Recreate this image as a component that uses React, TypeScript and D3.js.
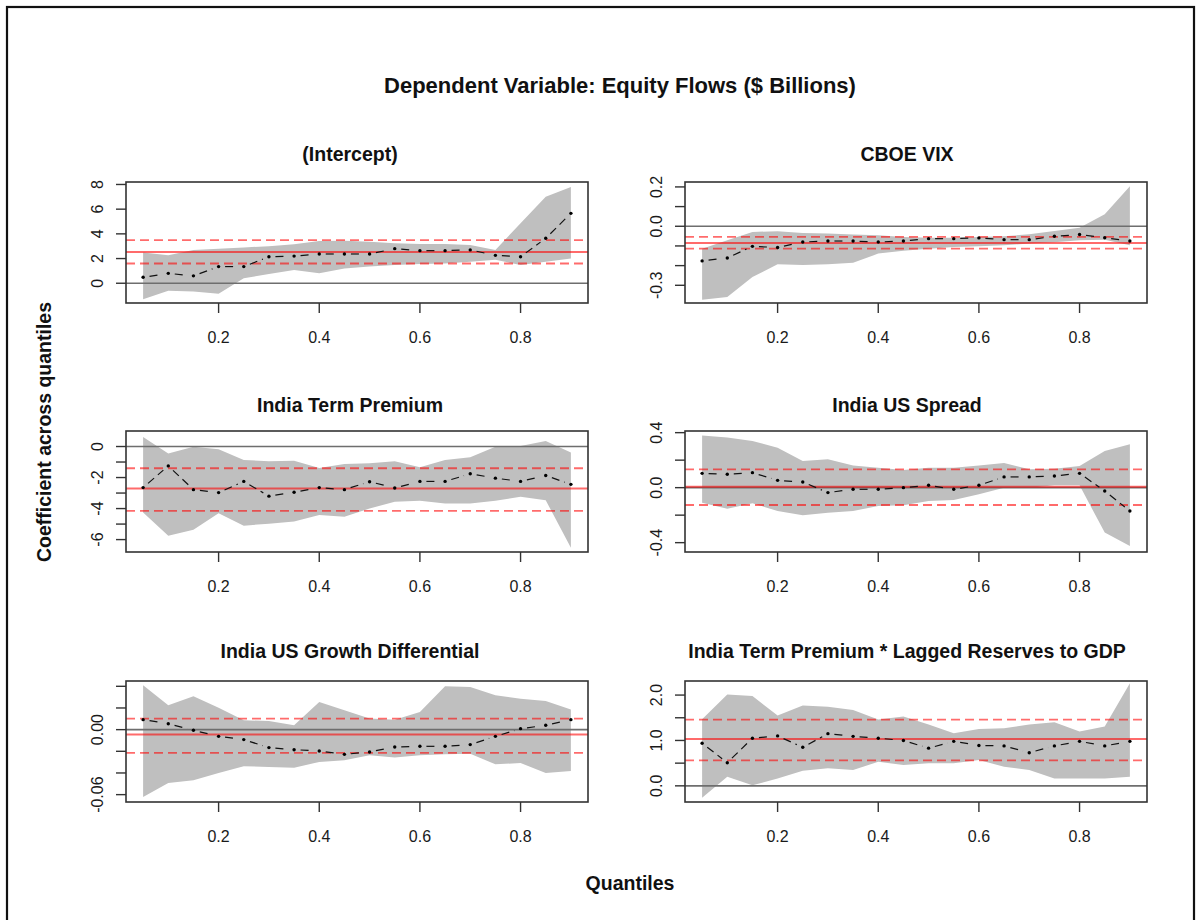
import * as d3 from 'd3';

// quantiles at which the regressions were run
const TAUS = [0.05, 0.1, 0.15, 0.2, 0.25, 0.3, 0.35, 0.4, 0.45, 0.5, 0.55, 0.6, 0.65, 0.7, 0.75, 0.8, 0.85, 0.9];
const X_TICKS = ['0.2', '0.4', '0.6', '0.8'];

// (Intercept)
const INT_COEF = [0.48, 0.8, 0.6, 1.35, 1.35, 2.15, 2.2, 2.37, 2.37, 2.37, 2.8, 2.64, 2.64, 2.7, 2.26, 2.15, 3.64, 5.66];
const INT_HI = [2.48, 2.26, 2.7, 2.8, 2.9, 3.0, 3.15, 3.42, 3.45, 3.37, 3.23, 3.18, 3.18, 3.1, 2.7, 4.85, 7.0, 7.8];
const INT_LO = [-1.3, -0.6, -0.67, -0.86, 0.4, 0.75, 1.08, 0.8, 1.2, 1.35, 1.48, 1.56, 1.6, 1.75, 1.9, 1.48, 1.75, 2.0];
const INT_OLS = [2.53, 1.6, 3.5];
const INT_TICKS = [0, 2, 4, 6, 8];
const INT_LABELS = ['0', '2', '4', '6', '8'];

// CBOE VIX
const VIX_COEF = [-0.176, -0.161, -0.102, -0.108, -0.08, -0.075, -0.075, -0.08, -0.075, -0.063, -0.063, -0.059, -0.068, -0.068, -0.051, -0.042, -0.058, -0.075];
const VIX_HI = [-0.114, -0.071, -0.029, -0.025, -0.034, -0.037, -0.042, -0.046, -0.054, -0.058, -0.058, -0.054, -0.051, -0.041, -0.024, -0.008, 0.061, 0.203];
const VIX_LO = [-0.373, -0.359, -0.258, -0.193, -0.197, -0.193, -0.186, -0.139, -0.125, -0.114, -0.105, -0.102, -0.097, -0.088, -0.081, -0.071, -0.068, -0.097];
const VIX_OLS = [-0.085, -0.114, -0.054];
const VIX_TICKS = [-0.3, -0.2, -0.1, 0, 0.1, 0.2];
const VIX_LABELS = ['-0.3', '0.0', '0.2'];

// India Term Premium
const ITP_COEF = [-2.65, -1.25, -2.78, -2.97, -2.25, -3.2, -2.95, -2.65, -2.78, -2.27, -2.67, -2.25, -2.25, -1.76, -2.04, -2.25, -1.87, -2.44];
const ITP_HI = [0.61, -0.45, -0.02, -0.17, -0.87, -0.95, -0.91, -1.38, -1.12, -1.08, -0.95, -1.34, -0.87, -0.7, -0.02, 0.04, 0.36, -0.38];
const ITP_LO = [-4.26, -5.75, -5.36, -4.3, -5.1, -4.98, -4.83, -4.41, -4.52, -3.99, -3.56, -3.5, -3.67, -3.67, -3.5, -3.24, -3.46, -6.53];
const ITP_OLS = [-2.71, -4.15, -1.4];
const ITP_TICKS = [-6, -5, -4, -3, -2, -1, 0];
const ITP_LABELS = ['-6', '-4', '-2', '0'];

// India US Spread
const SPR_COEF = [0.104, 0.097, 0.109, 0.053, 0.041, -0.036, -0.012, -0.012, 0.0, 0.017, -0.012, 0.017, 0.078, 0.078, 0.085, 0.104, -0.024, -0.17];
const SPR_HI = [0.38, 0.364, 0.34, 0.29, 0.194, 0.206, 0.162, 0.145, 0.128, 0.145, 0.145, 0.162, 0.18, 0.133, 0.138, 0.158, 0.267, 0.315];
const SPR_LO = [-0.109, -0.153, -0.114, -0.17, -0.2, -0.182, -0.17, -0.133, -0.128, -0.097, -0.09, -0.048, 0.0, 0.0, 0.017, 0.017, -0.327, -0.424];
const SPR_OLS = [0.007, -0.126, 0.133];
const SPR_TICKS = [-0.4, -0.2, 0, 0.2, 0.4];
const SPR_LABELS = ['-0.4', '0.0', '0.4'];

// India US Growth Differential
const GRO_COEF = [0.0092, 0.0055, -0.0006, -0.0062, -0.0092, -0.0166, -0.0185, -0.0197, -0.0228, -0.0206, -0.016, -0.0154, -0.0154, -0.0138, -0.0062, 0.0009, 0.004, 0.0092];
const GRO_HI = [0.0409, 0.0225, 0.0308, 0.0203, 0.0086, 0.008, 0.004, 0.0255, 0.0178, 0.0102, 0.0092, 0.0163, 0.04, 0.0394, 0.0317, 0.0286, 0.0265, 0.0185];
const GRO_LO = [-0.0622, -0.0492, -0.0468, -0.04, -0.0338, -0.0345, -0.0351, -0.0298, -0.0283, -0.0237, -0.0258, -0.0237, -0.0228, -0.0222, -0.032, -0.0308, -0.04, -0.0382];
const GRO_OLS = [-0.0046, -0.0215, 0.0102];
const GRO_TICKS = [-0.06, -0.04, -0.02, 0, 0.02, 0.04];
const GRO_LABELS = ['-0.06', '0.00'];

// India Term Premium * Lagged Reserves to GDP
const RES_COEF = [0.94, 0.51, 1.05, 1.1, 0.85, 1.15, 1.09, 1.05, 1.0, 0.83, 0.98, 0.89, 0.88, 0.73, 0.88, 0.98, 0.88, 0.98];
const RES_HI = [1.47, 2.01, 1.98, 1.55, 1.77, 1.74, 1.67, 1.46, 1.53, 1.35, 1.16, 1.25, 1.27, 1.35, 1.4, 1.2, 1.31, 2.26];
const RES_LO = [-0.26, 0.2, 0.015, 0.16, 0.33, 0.385, 0.35, 0.53, 0.46, 0.5, 0.5, 0.57, 0.42, 0.35, 0.16, 0.16, 0.16, 0.2];
const RES_OLS = [1.03, 0.56, 1.46];
const RES_TICKS = [0, 0.5, 1, 1.5, 2];
const RES_LABELS = ['0.0', '1.0', '2.0'];

const PANELS = [
  { title: '(Intercept)', coef: INT_COEF, hi: INT_HI, lo: INT_LO, ols: INT_OLS, ticks: INT_TICKS, labels: INT_LABELS, domain: [-1.6, 8.2] },
  { title: 'CBOE VIX', coef: VIX_COEF, hi: VIX_HI, lo: VIX_LO, ols: VIX_OLS, ticks: VIX_TICKS, labels: VIX_LABELS, domain: [-0.39, 0.225] },
  { title: 'India Term Premium', coef: ITP_COEF, hi: ITP_HI, lo: ITP_LO, ols: ITP_OLS, ticks: ITP_TICKS, labels: ITP_LABELS, domain: [-6.8, 1.0] },
  { title: 'India US Spread', coef: SPR_COEF, hi: SPR_HI, lo: SPR_LO, ols: SPR_OLS, ticks: SPR_TICKS, labels: SPR_LABELS, domain: [-0.468, 0.412] },
  { title: 'India US Growth Differential', coef: GRO_COEF, hi: GRO_HI, lo: GRO_LO, ols: GRO_OLS, ticks: GRO_TICKS, labels: GRO_LABELS, domain: [-0.0668, 0.0449] },
  { title: 'India Term Premium * Lagged Reserves to GDP', coef: RES_COEF, hi: RES_HI, lo: RES_LO, ols: RES_OLS, ticks: RES_TICKS, labels: RES_LABELS, domain: [-0.356, 2.31] },
];

const W = 1197, H = 920;
const COL_LEFT = [126, 685];
const COL_W = 462;
const ROW_TOP = [182, 431, 681];
const ROW_H = 121;
const TITLE_X = [350, 907];
const TITLE_Y = [161, 412, 658];
const FONT = '"Liberation Sans", Arial, sans-serif';
const RED = 'rgba(255,0,0,0.58)';

function Panel({ p, idx }: { p: typeof PANELS[number]; idx: number }) {
  const col = idx % 2, row = Math.floor(idx / 2);
  const x0 = COL_LEFT[col], y0 = ROW_TOP[row];
  const x = d3.scaleLinear().domain([0.016, 0.934]).range([x0, x0 + COL_W]);
  const y = d3.scaleLinear().domain(p.domain).range([y0 + ROW_H, y0]);

  const band = d3.area<number>()
    .x((_, i) => x(TAUS[i]))
    .y0((_, i) => y(p.lo[i]))
    .y1((d) => y(d))(p.hi) ?? '';

  const pts = TAUS.map((t, i) => [x(t), y(p.coef[i])] as [number, number]);
  const gap = 6.5;
  const segs = pts.slice(1).map((b, i) => {
    const a = pts[i];
    const dx = b[0] - a[0], dy = b[1] - a[1];
    const len = Math.hypot(dx, dy);
    if (len <= gap * 2) return null;
    const ux = dx / len, uy = dy / len;
    return [a[0] + ux * gap, a[1] + uy * gap, b[0] - ux * gap, b[1] - uy * gap];
  });

  const [olsMid, olsLo, olsHi] = p.ols;
  const bottom = y0 + ROW_H;

  return (
    <g>
      <text x={TITLE_X[col]} y={TITLE_Y[row]} textAnchor="middle" fontFamily={FONT} fontWeight="bold" fontSize={19.5} fill="#111">{p.title}</text>
      <path d={band} fill="#bfbfbf" />
      <line x1={x0} x2={x0 + COL_W} y1={y(0)} y2={y(0)} stroke="#6e6e6e" strokeWidth={1.6} />
      <line x1={x0} x2={x0 + COL_W} y1={y(olsMid)} y2={y(olsMid)} stroke={RED} strokeWidth={2} />
      <line x1={x0} x2={x0 + COL_W} y1={y(olsLo)} y2={y(olsLo)} stroke={RED} strokeWidth={1.8} strokeDasharray="9 5" />
      <line x1={x0} x2={x0 + COL_W} y1={y(olsHi)} y2={y(olsHi)} stroke={RED} strokeWidth={1.8} strokeDasharray="9 5" />
      {segs.map((s, i) => s && (
        <line key={i} x1={s[0]} y1={s[1]} x2={s[2]} y2={s[3]} stroke="#111" strokeWidth={1.2} strokeDasharray="8 5" />
      ))}
      {pts.map((pt, i) => <circle key={i} cx={pt[0]} cy={pt[1]} r={1.7} fill="#000" />)}
      <rect x={x0} y={y0} width={COL_W} height={ROW_H} fill="none" stroke="#333" strokeWidth={1.6} />
      {p.ticks.map((t) => (
        <line key={t} x1={x0 - 10} x2={x0} y1={y(t)} y2={y(t)} stroke="#333" strokeWidth={1.4} />
      ))}
      {p.labels.map((l) => (
        <text key={l} transform={`translate(${x0 - 29},${y(+l)}) rotate(-90)`} textAnchor="middle" dominantBaseline="central"
          fontFamily={FONT} fontSize={16} fill="#1a1a1a">{l}</text>
      ))}
      {X_TICKS.map((l) => (
        <g key={l}>
          <line x1={x(+l)} x2={x(+l)} y1={bottom} y2={bottom + 10} stroke="#333" strokeWidth={1.4} />
          <text x={x(+l)} y={bottom + 40} textAnchor="middle" fontFamily={FONT} fontSize={16} fill="#1a1a1a">{l}</text>
        </g>
      ))}
    </g>
  );
}

export default function App() {
  return (
    <svg width={W} height={H} style={{ position: 'absolute', left: 0, top: 0, background: '#fff' }}>
      <rect x={0} y={0} width={W} height={H} fill="#fff" />
      <rect x={7} y={7} width={1187} height={940} fill="none" stroke="#111" strokeWidth={2.2} />
      <text x={620} y={93} textAnchor="middle" fontFamily={FONT} fontWeight="bold" fontSize={22} fill="#111">
        Dependent Variable: Equity Flows ($ Billions)
      </text>
      <text transform="translate(44,432) rotate(-90)" textAnchor="middle" dominantBaseline="central"
        fontFamily={FONT} fontWeight="bold" fontSize={19.5} fill="#111">Coefficient across quantiles</text>
      <text x={630} y={890} textAnchor="middle" fontFamily={FONT} fontWeight="bold" fontSize={19.5} fill="#111">Quantiles</text>
      {PANELS.map((p, i) => <Panel key={p.title} p={p} idx={i} />)}
    </svg>
  );
}
